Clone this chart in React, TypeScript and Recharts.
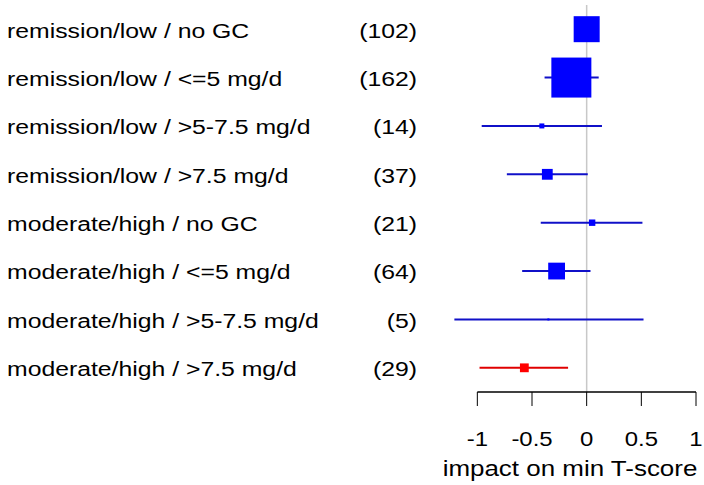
import { ScatterChart, Scatter, XAxis, YAxis, ErrorBar, ReferenceLine } from "recharts";

const labels = [
  "remission/low / no GC",
  "remission/low / <=5 mg/d",
  "remission/low / >5-7.5 mg/d",
  "remission/low / >7.5 mg/d",
  "moderate/high / no GC",
  "moderate/high / <=5 mg/d",
  "moderate/high / >5-7.5 mg/d",
  "moderate/high / >7.5 mg/d",
];
const counts = [102, 162, 14, 37, 21, 64, 5, 29];
const estimates = [0.0, -0.14, -0.41, -0.36, 0.05, -0.275, -0.35, -0.57];
const lower = [-0.08, -0.385, -0.96, -0.73, -0.42, -0.59, -1.21, -0.98];
const upper = [0.08, 0.11, 0.14, 0.01, 0.51, 0.035, 0.52, -0.17];
const weights = [0.65, 1.0, 0.125, 0.27, 0.16, 0.42, 0.05, 0.22];
const highlighted = [false, false, false, false, false, false, false, true];
const xTicks = [-1, -0.5, 0, 0.5, 1];

const rows = labels.map((label, i) => ({
  row: i + 1,
  label,
  n: counts[i],
  est: estimates[i],
  err: [estimates[i] - lower[i], upper[i] - estimates[i]],
  weight: weights[i],
  hl: highlighted[i],
}));

const FONT = "'Liberation Sans', Arial, sans-serif";
const MAX_BOX = 40;
// the source picture's text is a little wider than plain Arial
const STRETCH = 1.18;

const makeBox = (fill: string) => (props: any) => {
  const { cx, cy, payload } = props;
  const s = payload.weight * MAX_BOX;
  return <rect x={cx - s / 2} y={cy - s / 2} width={s} height={s} fill={fill} />;
};

const WideText = ({ x, y, anchor = "start", size = 21, sx = STRETCH, dy = "0.35em", children }: any) => (
  <text
    transform={`translate(${x} ${y}) scale(${sx} 1)`}
    dy={dy}
    fontSize={size}
    fontFamily={FONT}
    fill="#000"
    textAnchor={anchor}
  >
    {children}
  </text>
);

const RowTick = (props: any) => {
  const { y, payload } = props;
  const r = rows[payload.value - 1];
  if (!r) return null;
  return (
    <g>
      <WideText x={7} y={y + 1}>{r.label}</WideText>
      <WideText x={417} y={y + 1} anchor="end">({r.n})</WideText>
    </g>
  );
};

const ValueTick = (props: any) => {
  const { x, y, payload } = props;
  return (
    <WideText x={x} y={y} anchor="middle" sx={1.14} dy="0.71em">
      {payload.value}
    </WideText>
  );
};

const AxisTitle = (props: any) => {
  const { viewBox } = props;
  if (!viewBox) return null;
  return (
    <WideText x={viewBox.x + viewBox.width / 2 - 3} y={viewBox.y + viewBox.height - 9} anchor="middle" dy="0" size={22}>
      impact on min T-score
    </WideText>
  );
};

export default function App() {
  return (
    <div style={{ position: "absolute", left: 0, top: 0, background: "#fff" }}>
      <ScatterChart width={704} height={485} margin={{ top: 5, right: 8, bottom: 0, left: 0 }}>
        <XAxis
          type="number"
          dataKey="est"
          domain={[-1.25, 1]}
          allowDataOverflow
          ticks={xTicks}
          axisLine={false}
          tickLine={{ stroke: "#000" }}
          tickSize={14}
          tickMargin={25}
          height={93}
          tick={<ValueTick />}
          label={<AxisTitle />}
        />
        <YAxis
          type="number"
          dataKey="row"
          domain={[0.5, 8.5]}
          reversed
          ticks={rows.map((r) => r.row)}
          width={450}
          axisLine={false}
          tickLine={false}
          tick={<RowTick />}
        />
        <ReferenceLine x={0} stroke="#c8c8c8" strokeWidth={1.5} />
        <ReferenceLine
          segment={[
            { x: -1, y: 8.5 },
            { x: 1, y: 8.5 },
          ]}
          stroke="#000"
          strokeWidth={1.3}
        />
        <Scatter data={rows.filter((r) => !r.hl)} shape={makeBox("#0000ff")} isAnimationActive={false}>
          <ErrorBar dataKey="err" direction="x" width={0} stroke="#1010c8" strokeWidth={2} isAnimationActive={false} />
        </Scatter>
        <Scatter data={rows.filter((r) => r.hl)} shape={makeBox("#ff0000")} isAnimationActive={false}>
          <ErrorBar dataKey="err" direction="x" width={0} stroke="#e00000" strokeWidth={2} isAnimationActive={false} />
        </Scatter>
      </ScatterChart>
    </div>
  );
}
